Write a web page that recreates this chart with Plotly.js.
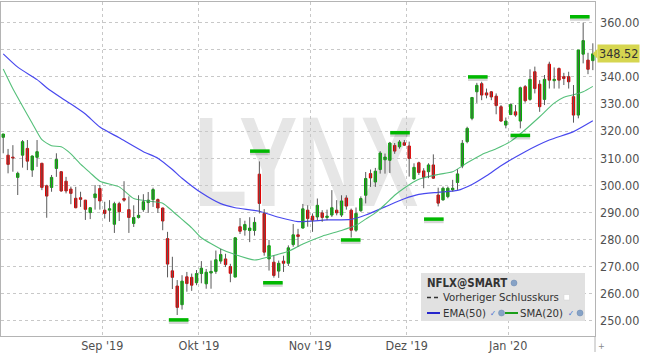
<!DOCTYPE html>
<html>
<head>
<meta charset="utf-8">
<script src="https://cdn.plot.ly/plotly-3.0.1.min.js"></script>
<style>
  html, body { margin:0; padding:0; background:#ffffff; }
  #wrap { position:relative; width:645px; height:358px; overflow:hidden; }
  #wm { position:absolute; left:193.6px; top:98.3px; font-family:'Liberation Sans', Arial, sans-serif; font-weight:bold; font-size:128px; line-height:128px; color:#e6e6e6; transform:scaleX(0.68); transform-origin:left top; white-space:nowrap; z-index:0; }
  #chart { position:absolute; left:0; top:0; width:645px; height:358px; z-index:1; }
</style>
</head>
<body>
<div id="wrap">
  <div id="wm">LYNX</div>
  <div id="chart"></div>
</div>
<script>
// ---------------- DATA ----------------
const dates = [
  "2019-08-02","2019-08-05","2019-08-06","2019-08-07","2019-08-08","2019-08-09","2019-08-12","2019-08-13","2019-08-14","2019-08-15","2019-08-16","2019-08-19","2019-08-20","2019-08-21","2019-08-22","2019-08-23","2019-08-26","2019-08-27","2019-08-28","2019-08-29","2019-08-30",
  "2019-09-03","2019-09-04","2019-09-05","2019-09-06","2019-09-09","2019-09-10","2019-09-11","2019-09-12","2019-09-13","2019-09-16","2019-09-17","2019-09-18","2019-09-19","2019-09-20","2019-09-23","2019-09-24","2019-09-25","2019-09-26","2019-09-27","2019-09-30",
  "2019-10-01","2019-10-02","2019-10-03","2019-10-04","2019-10-07","2019-10-08","2019-10-09","2019-10-10","2019-10-11","2019-10-14","2019-10-15","2019-10-16","2019-10-17","2019-10-18","2019-10-21","2019-10-22","2019-10-23","2019-10-24","2019-10-25","2019-10-28","2019-10-29","2019-10-30","2019-10-31",
  "2019-11-01","2019-11-04","2019-11-05","2019-11-06","2019-11-07","2019-11-08","2019-11-11","2019-11-12","2019-11-13","2019-11-14","2019-11-15","2019-11-18","2019-11-19","2019-11-20","2019-11-21","2019-11-22","2019-11-25","2019-11-26","2019-11-27","2019-11-29",
  "2019-12-02","2019-12-03","2019-12-04","2019-12-05","2019-12-06","2019-12-09","2019-12-10","2019-12-11","2019-12-12","2019-12-13","2019-12-16","2019-12-17","2019-12-18","2019-12-19","2019-12-20","2019-12-23","2019-12-24","2019-12-26","2019-12-27","2019-12-30","2019-12-31",
  "2020-01-02","2020-01-03","2020-01-06","2020-01-07","2020-01-08","2020-01-09","2020-01-10","2020-01-13","2020-01-14","2020-01-15","2020-01-16","2020-01-17","2020-01-21","2020-01-22","2020-01-23","2020-01-24","2020-01-27","2020-01-28"
];
const monthLabels = ["Sep '19","Okt '19","Nov '19","Dez '19","Jan '20"];

const open = [
  317.7,311.1,310.4,302.9,311.1,313.6,305.6,310.3,308.1,299.8,299.2,306.2,305.0,301.5,298.6,295.2,295.4,294.5,289.9,295.4,298.8,
  290.8,290.8,285.6,293.2,295.1,291.0,285.9,288.1,291.0,293.6,294.7,294.7,291.6,280.3,268.4,262.8,255.9,266.2,266.0,264.0,
  267.4,263.6,267.6,268.2,272.0,272.8,270.0,266.1,284.7,283.5,283.3,283.3,304.1,289.6,272.8,271.6,268.3,272.0,271.2,278.1,281.7,284.2,
  290.8,288.6,288.3,289.8,288.1,289.0,290.8,289.0,295.3,290.8,283.4,290.6,296.3,304.3,301.2,305.8,309.4,309.2,314.7,314.2,
  315.7,314.5,302.3,308.3,305.3,305.0,307.5,296.4,294.6,295.8,298.3,301.0,307.1,316.1,324.7,334.5,337.5,334.1,334.5,332.9,
  329.0,322.2,326.1,327.1,323.7,336.4,331.7,341.9,337.3,331.7,344.7,338.6,343.1,340.1,340.1,332.7,325.9,348.4,346.2,346.0
];
const high = [
  319.0,313.4,314.8,305.0,316.7,316.7,311.0,316.7,308.3,300.2,303.8,311.8,305.2,303.1,299.5,299.4,297.6,294.6,291.8,300.1,300.1,
  293.9,294.5,293.9,293.9,301.5,295.9,292.6,296.3,296.7,297.5,299.1,295.1,291.7,282.8,273.6,265.0,266.8,268.0,267.4,268.7,
  272.0,269.1,272.2,275.9,276.5,274.7,271.0,280.8,287.9,286.9,288.2,288.2,308.8,291.2,279.8,274.0,272.2,274.0,277.8,285.7,283.9,293.1,
  292.6,289.6,295.1,290.8,291.0,298.2,294.5,296.3,296.3,291.4,291.8,295.9,304.9,305.8,306.4,312.6,311.7,316.0,315.6,316.7,
  316.7,316.1,308.1,308.7,306.3,308.1,311.4,299.1,299.5,299.5,302.0,305.9,316.7,321.6,332.6,337.8,338.2,335.7,334.8,333.9,
  329.6,325.0,330.2,329.6,336.4,337.0,342.8,343.8,338.8,340.7,345.6,343.5,343.5,341.5,341.9,337.0,349.9,360.0,348.9,352.4
];
const low = [
  311.8,304.4,305.0,296.4,306.5,305.6,303.1,306.8,298.2,288.0,297.6,303.1,297.6,297.0,293.0,291.5,292.0,287.2,287.5,291.0,291.0,
  287.7,286.5,282.4,286.8,293.9,282.4,284.6,287.7,290.2,289.8,292.0,289.8,283.4,266.0,261.7,252.1,254.1,260.7,261.0,263.1,
  263.8,261.8,261.8,267.3,271.0,269.8,264.2,266.1,282.0,281.4,279.0,281.4,289.6,274.0,268.5,265.9,265.8,268.0,270.2,277.3,277.3,284.0,
  284.7,282.8,287.1,286.5,287.1,288.3,288.9,288.3,291.0,280.7,282.8,290.2,293.3,299.4,299.4,304.3,304.3,304.5,311.6,313.5,
  314.5,303.2,302.2,303.8,298.9,302.6,302.3,292.2,294.3,295.2,297.7,298.3,306.3,315.5,324.0,330.4,331.4,332.1,331.4,326.2,
  323.4,321.0,325.9,325.3,321.0,330.5,331.2,333.9,327.1,329.6,335.7,335.7,335.7,337.0,335.7,323.1,324.7,345.0,341.0,342.5
];
const close = [
  318.9,307.7,310.1,304.4,316.1,308.9,310.8,312.4,299.2,296.0,302.9,309.5,297.9,297.9,297.0,291.7,294.8,291.1,291.7,296.8,294.2,
  289.6,291.3,293.2,290.2,294.5,288.1,288.1,288.9,293.9,294.5,298.4,291.6,286.8,270.9,266.0,254.9,264.6,263.7,263.1,267.4,
  269.4,267.9,268.2,272.5,274.4,270.7,267.5,280.6,283.0,285.5,284.2,286.3,293.3,275.3,277.7,266.7,271.2,271.2,276.9,281.7,281.1,291.3,
  287.7,287.1,292.6,288.1,288.6,291.7,289.8,294.2,292.3,283.4,289.6,295.1,302.5,302.7,305.2,311.9,310.4,315.6,312.6,316.0,
  314.8,309.9,306.6,304.7,302.9,307.5,302.6,293.4,298.9,298.9,298.9,304.2,315.5,321.0,332.4,336.9,333.3,333.3,332.6,329.4,
  323.7,323.7,329.8,325.9,336.0,331.2,339.1,335.7,329.0,339.1,338.8,339.1,338.8,339.4,338.2,325.9,349.9,353.4,342.8,348.52
];

// EMA(50) and SMA(20) at these candle positions
const emaIdx = [0,3,7,9,12,14,17,20,24,29,32,35,37,41,45,48,53,57,61,67,72,75,79,83,86,90,94,97,100,103,108,113,118,122];
const emaVal = [348.5,343.6,339.0,336.0,332.3,330.0,326.3,321.5,317.5,312.4,310.0,305.8,302.6,297.2,293.2,291.7,290.4,288.2,286.6,287.2,287.4,289.0,292.0,295.0,296.6,297.4,298.1,300.3,303.5,307.2,312.4,316.7,319.8,323.8];
const smaIdx = [0,2,4,6,8,10,12,14,16,18,20,24,27,30,33,35,37,39,41,45,48,52,55,59,62,66,70,73,75,77,79,81,83,86,90,93,96,99,102,105,108,111,114,116,118,120,122];
const smaVal = [342.9,335.6,329.2,322.9,316.8,314.6,314.2,311.6,307.8,304.6,301.5,299.4,295.1,294.2,293.4,290.5,287.4,284.3,280.6,276.5,274.4,272.4,273.6,275.6,278.3,281.2,283.3,285.2,287.5,289.8,292.9,296.3,299.0,302.2,304.0,305.0,308.3,311.3,313.5,316.2,320.5,325.3,330.3,332.5,333.4,334.5,336.5];

// swing high / low markers
const markIdx = [36.3,53.1,55.8,71.9,82.1,89.1,98.2,107.0,119.3];
const markVal = [250.3,312.6,264.0,279.8,319.4,287.5,340.0,318.4,362.2];

// ---------------- BUILD ----------------
const F = "'DejaVu Sans Condensed', 'DejaVu Sans', sans-serif";
const N = dates.length;
const xi = dates.map((d, i) => i);

const wx = [], wy = [];
for (let i = 0; i < N; i++) { wx.push(i, i, null); wy.push(low[i], high[i], null); }

const bodyHi = open.map((o, i) => Math.max(o, close[i]));
const bodyLo = open.map((o, i) => Math.min(o, close[i]));

const tickvals = [];
for (let i = 1; i < N; i++) if (dates[i].slice(0, 7) !== dates[i - 1].slice(0, 7)) tickvals.push(i - 0.5);

const W = 645, H = 358, ML = 1, MR = 50, MT = 2, MB = 22;
const PW = W - ML - MR, PH = H - MT - MB;
const yr = [244.35, 367.65];
const pxPerUnit = PH / (yr[1] - yr[0]);
const PX = px => (px - ML) / PW;
const PY = py => (H - MB - py) / PH;

const traces = [
  { type: 'scatter', mode: 'lines', x: emaIdx, y: emaVal, line: { color: '#4848ee', width: 1.2, shape: 'spline', smoothing: 0.6 }, hoverinfo: 'skip', showlegend: false },
  { type: 'scatter', mode: 'lines', x: smaIdx, y: smaVal, line: { color: '#55c07a', width: 1.1, shape: 'spline', smoothing: 0.6 }, hoverinfo: 'skip', showlegend: false },
  { type: 'scatter', mode: 'lines', x: wx, y: wy, line: { color: '#5a5a5a', width: 1 }, hoverinfo: 'skip', showlegend: false, connectgaps: false },
  { type: 'candlestick', x: xi, open: open, high: bodyHi, low: bodyLo, close: close,
    increasing: { line: { color: '#00ad00', width: 1 }, fillcolor: '#00b400' },
    decreasing: { line: { color: '#dc0000', width: 1 }, fillcolor: '#e00000' },
    whiskerwidth: 0, showlegend: false, hoverinfo: 'skip' },
  { type: 'scatter', mode: 'markers', x: markIdx, y: markVal.map(v => v - 1.6 / pxPerUnit),
    marker: { symbol: 'line-ew', size: 14, line: { color: 'rgba(0,0,0,0.16)', width: 5 } }, hoverinfo: 'skip', showlegend: false },
  { type: 'scatter', mode: 'markers', x: markIdx, y: markVal,
    marker: { symbol: 'line-ew', size: 14, line: { color: '#00b800', width: 3.5 } }, hoverinfo: 'skip', showlegend: false }
];

const lastClose = close[N - 1];
const triH = 5 / pxPerUnit;

const shapes = [
  { type: 'line', xref: 'paper', yref: 'paper', x0: 1, x1: 1, y0: 0, y1: PY(352), line: { color: '#b4b4b4', width: 1 } },
  { type: 'rect', xref: 'paper', yref: 'paper', x0: PX(421), x1: PX(585), y0: PY(321), y1: PY(273), fillcolor: '#e1e1e1', line: { width: 0 } },
  { type: 'circle', xref: 'paper', yref: 'paper', x0: PX(511), x1: PX(517), y0: PY(286), y1: PY(280), fillcolor: '#86a2c6', line: { color: '#6b88b0', width: 0.5 } },
  { type: 'line', xref: 'paper', yref: 'paper', x0: PX(427), x1: PX(440), y0: PY(297.5), y1: PY(297.5), line: { color: '#333', width: 1.5, dash: '4px,3px' } },
  { type: 'rect', xref: 'paper', yref: 'paper', x0: PX(564), x1: PX(569.5), y0: PY(300), y1: PY(294.5), fillcolor: '#ffffff', line: { color: '#d0d0d0', width: 0.5 } },
  { type: 'line', xref: 'paper', yref: 'paper', x0: PX(427), x1: PX(440), y0: PY(313), y1: PY(313), line: { color: '#2626cc', width: 2 } },
  { type: 'circle', xref: 'paper', yref: 'paper', x0: PX(498.5), x1: PX(504.5), y0: PY(316), y1: PY(310), fillcolor: '#86a2c6', line: { color: '#6b88b0', width: 0.5 } },
  { type: 'line', xref: 'paper', yref: 'paper', x0: PX(505), x1: PX(518), y0: PY(313), y1: PY(313), line: { color: '#1a9e1a', width: 2 } },
  { type: 'circle', xref: 'paper', yref: 'paper', x0: PX(577), x1: PX(583), y0: PY(316), y1: PY(310), fillcolor: '#86a2c6', line: { color: '#6b88b0', width: 0.5 } },
  { type: 'path', xref: 'paper', yref: 'y', path: `M ${PX(592.5)} ${lastClose} L ${PX(597.5)} ${lastClose + triH} L ${PX(597.5)} ${lastClose - triH} Z`, fillcolor: '#d6d650', line: { width: 0 } }
];

const txt = (px, py, text, size, color, extra) => Object.assign({ xref: 'paper', yref: 'paper', x: PX(px), y: PY(py), xanchor: 'left', yanchor: 'middle', text: text, showarrow: false, font: { family: F, size: size, color: color } }, extra || {});

const annotations = [
  txt(425, 283, '<b>NFLX@SMART</b>', 11.4, '#333333'),
  txt(441, 297.5, 'Vorheriger Schlusskurs', 11.3, '#333333'),
  txt(441, 313, 'EMA(50)', 11.3, '#333333'),
  txt(488, 313.5, '✓', 8, '#3a6fd0'),
  txt(518, 313, 'SMA(20)', 11.3, '#333333'),
  txt(566, 313.5, '✓', 8, '#3a6fd0'),
  txt(595.5, 346, '+', 9, '#888888'),
  { xref: 'paper', yref: 'y', x: PX(597), y: lastClose, xanchor: 'left', yanchor: 'middle', text: lastClose.toFixed(2), showarrow: false,
    bgcolor: '#d6d650', borderpad: 1, font: { family: F, size: 12.5, color: '#333333' } }
];

const layout = {
  width: W, height: H,
  margin: { l: ML, r: MR, t: MT, b: MB, pad: 0 },
  paper_bgcolor: 'rgba(0,0,0,0)', plot_bgcolor: 'rgba(0,0,0,0)',
  showlegend: false,
  dragmode: false,
  xaxis: {
    type: 'linear', range: [-0.46, 122.45], rangeslider: { visible: false },
    tickmode: 'array', tickvals: tickvals, ticktext: monthLabels,
    showgrid: true, gridcolor: '#c8c8c8', griddash: 'dot', gridwidth: 1,
    zeroline: false, showline: true, linecolor: '#b4b4b4', linewidth: 1, mirror: true,
    ticks: '', ticklabelstandoff: -2,
    tickfont: { family: F, size: 12.5, color: '#505050' }
  },
  yaxis: {
    side: 'right', range: yr, tickmode: 'linear', tick0: 250, dtick: 10, tickformat: '.2f',
    showgrid: true, gridcolor: '#c8c8c8', griddash: 'dot', gridwidth: 1,
    zeroline: false, showline: true, linecolor: '#b4b4b4', linewidth: 1, mirror: true,
    ticks: 'outside', ticklen: 1.5, tickcolor: 'rgba(0,0,0,0)',
    tickfont: { family: F, size: 12.5, color: '#505050' }
  },
  shapes: shapes,
  annotations: annotations
};

Plotly.newPlot('chart', traces, layout, { staticPlot: true, displayModeBar: false });
</script>
</body>
</html>
